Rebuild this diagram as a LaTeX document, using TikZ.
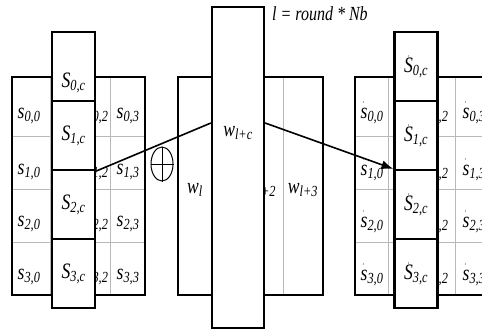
\documentclass[tikz,border=0pt]{standalone}
\usepackage{fontspec}
\setmainfont{Liberation Serif}
\usepackage{graphicx}
\usetikzlibrary{arrows.meta,shapes.geometric}

\newcommand{\sq}[1]{\scalebox{0.8}[1]{#1}}
\newcommand{\st}[2]{\sq{\textit{#1}\textsubscript{\textit{#2}}}}
\newcommand{\stp}[2]{\sq{\textit{#1}\llap{\raisebox{1.2ex}{\scriptsize\textit{'}}\kern0.2em}\textsubscript{\textit{#2}}}}

\tikzset{
  frame/.style={line width=1.6pt},
  gridline/.style={gray!55, line width=0.8pt},
  lbl/.style={font=\fontsize{22}{24}\selectfont, inner sep=0pt},
  colbox/.style={draw, line width=2.2pt, fill=white, minimum width=43pt, minimum height=69pt, inner sep=0pt, font=\fontsize{22}{24}\selectfont},
}

\begin{document}
\begin{tikzpicture}[x=1pt, y=-1pt]
  \useasboundingbox (0,0) rectangle (482,329);
  \clip (0,0) rectangle (482,329);
  % state before
  \draw[gridline] (50,77) -- (50,295) (110,77) -- (110,295)
    (12,136) -- (145,136) (12,189) -- (145,189) (12,242) -- (145,242);
  \draw[frame] (12,77) rectangle (145,295);
  \foreach \r/\y in {0/116,1/172,2/224,3/277} {
    \node[lbl] (s\r0) at (29,\y) {\st{s}{\r,0}};
    \node[lbl] (s\r2) at (97,\y) {\st{s}{\r,2}};
    \node[lbl] (s\r3) at (128,\y) {\st{s}{\r,3}};
  }
  \node[colbox] (S0c) at (73.5,66.5) {};
  \node[lbl] (S0ct) at (73.5,83) {\st{S}{0,c}};
  \node[colbox] (S1c) at (73.5,135.5) {\st{S}{1,c}};
  \node[colbox] (S2c) at (73.5,204.5) {\st{S}{2,c}};
  \node[colbox] (S3c) at (73.5,273.5) {\st{S}{3,c}};
  % round key words
  \draw[gridline] (283,77) -- (283,295);
  \draw[frame] (178,77) rectangle (323,295);
  \node[lbl] (wl) at (195,190) {\st{w}{l}};
  \node[lbl] (wl2) at (261,190) {\st{w}{l+2}};
  \node[lbl] (wl3) at (303,190) {\st{w}{l+3}};
  \node[colbox, minimum width=52pt, minimum height=321pt] (wlc) at (238,167.5) {};
  \node[lbl] (wlct) at (238,133) {\st{w}{l+c}};
  % state after
  \draw[gridline] (388,77) -- (388,295) (455,77) -- (455,295)
    (355,136) -- (488,136) (355,189) -- (488,189) (355,242) -- (488,242);
  \draw[frame] (355,77) rectangle (488,295);
  \foreach \r/\y in {0/113,1/170,2/222,3/275} {
    \node[lbl] (r\r0) at (372,\y) {\stp{s}{\r,0}};
    \node[lbl] (r\r2) at (437,\y) {\stp{s}{\r,2}};
    \node[lbl] (r\r3) at (474,\y) {\stp{s}{\r,3}};
  }
  \node[colbox] (R0c) at (416,66.5) {\stp{S}{0,c}};
  \node[colbox] (R1c) at (416,135.5) {\stp{S}{1,c}};
  \node[colbox] (R2c) at (416,204.5) {\stp{S}{2,c}};
  \node[colbox] (R3c) at (416,273.5) {\stp{S}{3,c}};
  % xor and flow
  \node[draw, ellipse, line width=1pt, minimum width=22pt, minimum height=34pt, inner sep=0pt] (xor) at (162,164) {};
  \draw[line width=1pt] (xor.north) -- (xor.south) (xor.west) -- (xor.east);
  \coordinate (win) at (wlc.west |- 0,123);
  \coordinate (wout) at (wlc.east |- 0,123);
  \draw[line width=1.6pt] (S1c.south east) -- (win);
  \draw[line width=1.6pt, -{Latex[length=12pt,width=9pt]}] (wout) -- (R2c.north west);
  \node[anchor=west, inner sep=0pt, font=\fontsize{20}{22}\selectfont] (title) at (272,14) {\sq{\textit{l = round * Nb}}};
\end{tikzpicture}
\end{document}
